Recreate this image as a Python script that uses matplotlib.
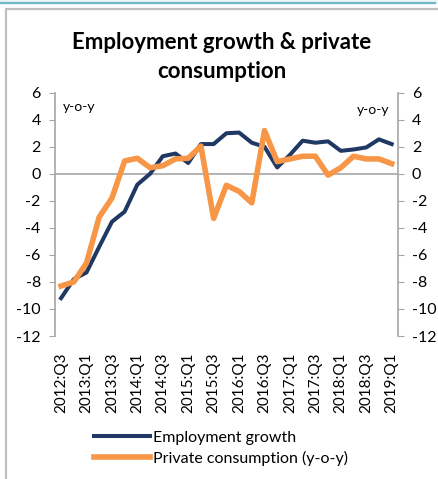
"""Gráfico: crescimento do emprego vs. consumo privado (y-o-y), trimestral."""

import matplotlib.pyplot as plt
from matplotlib.lines import Line2D

# ── Dados ────────────────────────────────────────────────────────────────
trimestres = [
    "2012:Q3", "2012:Q4", "2013:Q1", "2013:Q2", "2013:Q3", "2013:Q4",
    "2014:Q1", "2014:Q2", "2014:Q3", "2014:Q4", "2015:Q1", "2015:Q2",
    "2015:Q3", "2015:Q4", "2016:Q1", "2016:Q2", "2016:Q3", "2016:Q4",
    "2017:Q1", "2017:Q2", "2017:Q3", "2017:Q4", "2018:Q1", "2018:Q2",
    "2018:Q3", "2018:Q4", "2019:Q1",
]
emprego = [
    -9.2, -7.8, -7.3, -5.4, -3.55, -2.8, -0.8, 0.0, 1.3, 1.5, 0.8, 2.2,
    2.2, 3.0, 3.05, 2.3, 2.0, 0.47, 1.4, 2.45, 2.3, 2.4, 1.7, 1.8,
    1.95, 2.55, 2.2,
]
consumo = [
    -8.3, -8.0, -6.6, -3.2, -1.8, 0.95, 1.15, 0.45, 0.6, 1.1, 1.15, 2.05,
    -3.3, -0.85, -1.3, -2.15, 3.2, 0.9, 1.1, 1.3, 1.3, -0.1, 0.45, 1.3,
    1.1, 1.1, 0.75,
]
y_ticks = [6, 4, 2, 0, -2, -4, -6, -8, -10, -12]

COR_EMPREGO = "#203864"
COR_CONSUMO = "#F79646"
COR_EIXO = "#A6A6A6"

plt.rcParams["font.family"] = ["Lato", "DejaVu Sans"]

fig = plt.figure(figsize=(4.38, 4.79), dpi=100)
W, H = 438, 479

# ── Moldura (faixa azul + borda cinza) ───────────────────────────────────
fig.patches.append(plt.Rectangle((0, 1 - 3 / H), 1, 3 / H, transform=fig.transFigure,
                                 color="#EAF4F7", zorder=0))
fig.lines.append(Line2D([0, 435 / W], [1 - 2.5 / H] * 2, transform=fig.transFigure,
                        color="#6FB7C9", lw=1.6))
fig.lines.append(Line2D([5.5 / W, 5.5 / W, 1], [0, 1 - 8.5 / H, 1 - 8.5 / H],
                        transform=fig.transFigure, color="#BFBFBF", lw=1.6))

# ── Eixos ────────────────────────────────────────────────────────────────
ax = fig.add_axes([54.7 / W, 1 - 336 / H, (398 - 54.7) / W, (336 - 92.7) / H])
x = list(range(len(trimestres)))

ax.axhline(0, color=COR_EIXO, lw=1.2, zorder=1)
ax.plot(x, emprego, color=COR_EMPREGO, lw=2.9, label="Employment growth", zorder=3)
ax.plot(x, consumo, color=COR_CONSUMO, lw=4.0, label="Private consumption (y-o-y)",
        zorder=4)

ax.set_xlim(-0.5, len(x) - 0.5)
ax.set_ylim(-12, 6)
ax.set_yticks(y_ticks)
ax.set_yticklabels([str(v) for v in y_ticks])
ax.set_xticks(x[::2])
ax.set_xticklabels(trimestres[::2], rotation=90, fontsize=11)
ax.tick_params(axis="x", length=0, pad=12)
ax.tick_params(axis="y", length=4, color=COR_EIXO, labelsize=11.5, pad=6)

for lado in ("top", "bottom", "right"):
    ax.spines[lado].set_visible(False)
ax.spines["left"].set_color(COR_EIXO)
ax.spines["left"].set_linewidth(1.2)

ax2 = ax.twinx()
ax2.set_ylim(-12, 6)
ax2.set_yticks(y_ticks)
ax2.set_yticklabels([str(v) for v in y_ticks])
ax2.tick_params(axis="y", length=4, color=COR_EIXO, labelsize=11.5, pad=6)
for lado in ("top", "bottom", "left"):
    ax2.spines[lado].set_visible(False)
ax2.spines["right"].set_color(COR_EIXO)
ax2.spines["right"].set_linewidth(1.2)

ax.text(0.025, 0.965, "y-o-y", transform=ax.transAxes, fontsize=10, va="top")
ax.text(0.975, 0.955, "y-o-y", transform=ax.transAxes, fontsize=10, va="top",
        ha="right")

# ── Título e legenda ─────────────────────────────────────────────────────
fig.text(222 / W, 1 - 49 / H, "Employment growth & private", ha="center",
         va="baseline", fontsize=16, fontweight="bold")
fig.text(222 / W, 1 - 78 / H, "consumption", ha="center", va="baseline",
         fontsize=16, fontweight="bold")

fig.legend(loc="upper left", bbox_to_anchor=(88 / W, 1 - 424 / H), frameon=False,
           fontsize=11.5, handlelength=3.5, handletextpad=0.2, labelspacing=0.4,
           borderaxespad=0)

fig.savefig("out.png", dpi=100)
